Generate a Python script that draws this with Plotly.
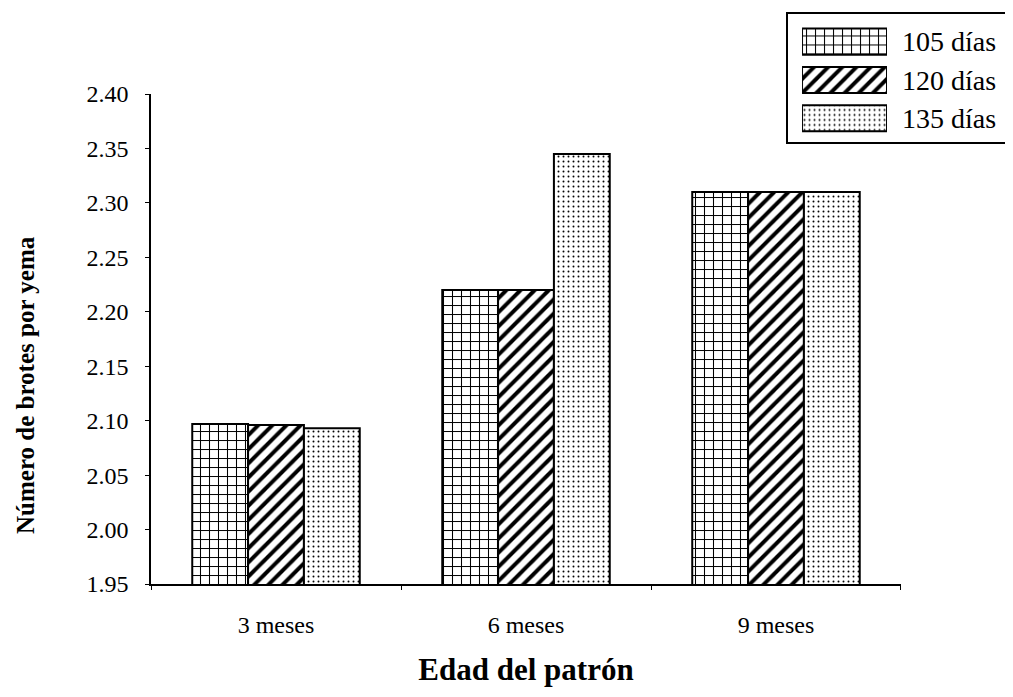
import plotly.graph_objects as go

categories = ["3 meses", "6 meses", "9 meses"]
series_names = ["105 días", "120 días", "135 días"]
v105 = [2.097, 2.220, 2.310]
v120 = [2.096, 2.220, 2.310]
v135 = [2.093, 2.345, 2.310]
patterns = ["+", "/", "."]
y_ticks = [1.95, 2.00, 2.05, 2.10, 2.15, 2.20, 2.25, 2.30, 2.35, 2.40]

FONT = "Liberation Serif, Times New Roman, Tinos, DejaVu Serif, serif"

def pat(shape):
    if shape == "+":
        return dict(shape="+", fgcolor="black", bgcolor="white", size=9, solidity=0.22)
    if shape == "/":
        return dict(shape="/", fgcolor="black", bgcolor="white", size=10, solidity=0.4)
    return dict(shape=".", fgcolor="black", bgcolor="white", size=5, solidity=0.12)

fig = go.Figure()
for name, vals, p in zip(series_names, [v105, v120, v135], patterns):
    fig.add_trace(go.Bar(
        x=categories, y=vals, name=name, showlegend=False,
        marker=dict(color="white", line=dict(color="black", width=2), pattern=pat(p)),
    ))

# legend keys drawn as patterned bars in a small inset axis
for name, p in zip(series_names, patterns):
    fig.add_trace(go.Bar(
        x=[1], y=[name], orientation="h", xaxis="x2", yaxis="y2",
        width=0.68, offset=-0.34, showlegend=False, hoverinfo="skip",
        marker=dict(color="white", line=dict(color="black", width=2), pattern=pat(p)),
    ))

fig.update_layout(
    template="none",
    width=1005, height=689,
    barmode="group", bargap=0.33, bargroupgap=0,
    plot_bgcolor="rgba(0,0,0,0)", paper_bgcolor="white",
    margin=dict(l=143, r=3, t=4, b=113),
    font=dict(family=FONT, size=24, color="black"),
    showlegend=False,
    xaxis=dict(domain=[0, 0.8731], showline=True, linecolor="black", linewidth=1.5,
               ticks="outside", tickson="boundaries", ticklen=4,
               tickcolor="black", showgrid=False, automargin=False,
               tickfont=dict(family=FONT, size=24), ticklabelstandoff=18,
               title=dict(text="<b>Edad del patrón</b>",
                          font=dict(family=FONT, size=31), standoff=22)),
    yaxis=dict(domain=[0, 0.8566], range=[1.95, 2.40], tickvals=y_ticks,
               ticktext=[f"{t:.2f}" for t in y_ticks],
               showline=True, linecolor="black", linewidth=1.5,
               ticks="outside", ticklen=4, tickcolor="black", showgrid=False,
               zeroline=False, automargin=False,
               tickfont=dict(family=FONT, size=24), ticklabelstandoff=12),
    xaxis2=dict(domain=[0.7579, 0.8568], range=[0, 1], visible=False,
                anchor="y2", fixedrange=True),
    yaxis2=dict(domain=[0.7806, 0.9817], anchor="x2", type="category",
                categoryorder="array", categoryarray=series_names,
                autorange="reversed", side="right", showline=False,
                ticks="", showgrid=False, zeroline=False, automargin=False,
                tickfont=dict(family=FONT, size=28), ticklabelstandoff=14,
                fixedrange=True),
    shapes=[dict(type="rect", xref="paper", yref="paper",
                 x0=0.7404, x1=0.9988, y0=0.7710, y1=0.9983,
                 line=dict(color="black", width=2), layer="below")],
    annotations=[dict(text="<b>Número de brotes por yema</b>", textangle=-90,
                      xref="paper", yref="paper", x=-0.1455, y=0.348,
                      xanchor="center", yanchor="middle", showarrow=False,
                      font=dict(family=FONT, size=25))],
)

fig.write_html("out.html")
